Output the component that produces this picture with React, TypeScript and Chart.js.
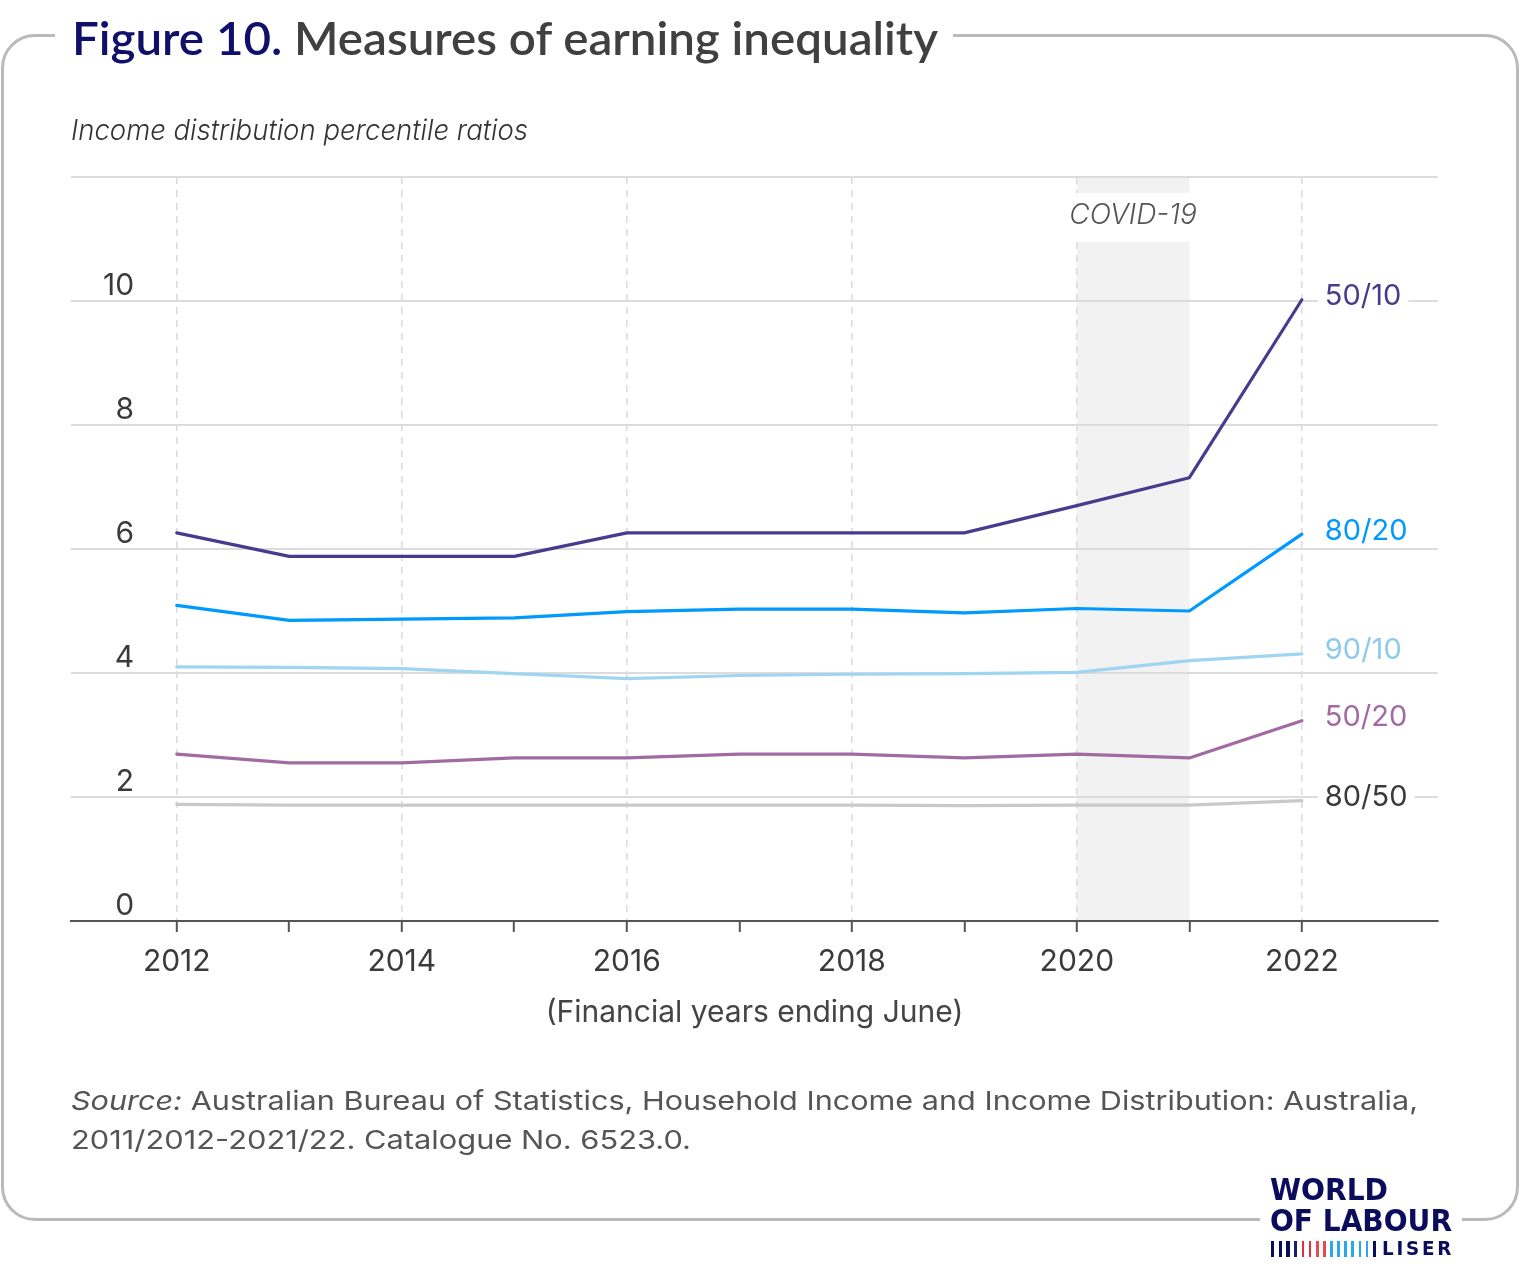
import React, { useEffect, useLayoutEffect, useRef } from 'react';
import { Chart, registerables } from 'chart.js';

Chart.register(...registerables);

// ---------- data ----------
const years = [2012, 2013, 2014, 2015, 2016, 2017, 2018, 2019, 2020, 2021, 2022];
const yTickValues = [0, 2, 4, 6, 8, 10, 12];
const seriesLabels = ['80/50', '50/20', '90/10', '80/20', '50/10'];
const ratio8050 = [1.88, 1.87, 1.87, 1.87, 1.87, 1.87, 1.87, 1.86, 1.87, 1.87, 1.94];
const ratio5020 = [2.69, 2.55, 2.55, 2.63, 2.63, 2.69, 2.69, 2.63, 2.69, 2.63, 3.23];
const ratio9010 = [4.10, 4.09, 4.07, 3.99, 3.91, 3.96, 3.98, 3.99, 4.01, 4.20, 4.31];
const ratio8020 = [5.09, 4.85, 4.87, 4.89, 4.99, 5.03, 5.03, 4.97, 5.04, 5.00, 6.24];
const ratio5010 = [6.26, 5.88, 5.88, 5.88, 6.26, 6.26, 6.26, 6.26, 6.70, 7.15, 10.02];
const seriesValues = [ratio8050, ratio5020, ratio9010, ratio8020, ratio5010];
const lineColors = ['#c9c9c9', '#a26aa2', '#9fd5f2', '#0099fe', '#463b8c'];
const labelColors = ['#3a3a3a', '#a26aa2', '#8ecbea', '#0099fe', '#463b8c'];
const covidStart = 2020;
const covidEnd = 2021;
const covidText = 'COVID-19';
const xMin = 2011.06;
const xMax = 2023.21;
const yMin = 0;
const yMax = 12;

const FONT = 'Inter, "Noto Sans", sans-serif';

function FitText({ width, style, children }: { width: number; style: React.CSSProperties; children: React.ReactNode }) {
  const ref = useRef<HTMLSpanElement>(null);
  useLayoutEffect(() => {
    const el = ref.current;
    if (!el) return;
    el.style.transform = 'none';
    const w = el.getBoundingClientRect().width;
    if (w > 0) el.style.transform = `scaleX(${width / w})`;
  });
  return (
    <span
      ref={ref}
      style={{ position: 'absolute', whiteSpace: 'nowrap', transformOrigin: '0 0', display: 'inline-block', ...style }}
    >
      {children}
    </span>
  );
}

const overlayPlugin = {
  id: 'overlayPlugin',
  beforeDraw(chart: any) {
    const { ctx, chartArea, scales } = chart;
    const x = scales.x;
    const x1 = x.getPixelForValue(covidStart);
    const x2 = x.getPixelForValue(covidEnd);
    ctx.save();
    ctx.fillStyle = '#f2f2f2';
    ctx.fillRect(x1, chartArea.top, x2 - x1, chartArea.bottom - chartArea.top);
    ctx.restore();
  },
  afterDatasetsDraw(chart: any) {
    const { ctx, chartArea, scales } = chart;
    const x = scales.x;
    const y = scales.y;
    ctx.save();
    // COVID label with white gap
    const x1 = x.getPixelForValue(covidStart);
    const x2 = x.getPixelForValue(covidEnd);
    const cx = (x1 + x2) / 2;
    ctx.fillStyle = '#ffffff';
    ctx.fillRect(x1 - 3, chartArea.top + 16, x2 - x1 + 6, 49);
    ctx.font = `italic 300 28px ${FONT}`;
    ctx.fillStyle = '#555555';
    ctx.textAlign = 'center';
    ctx.textBaseline = 'middle';
    ctx.fillText(covidText, cx, chartArea.top + 39);

    // series end labels
    ctx.font = `400 29px ${FONT}`;
    ctx.textAlign = 'left';
    chart.data.datasets.forEach((ds: any, i: number) => {
      const last = ds.data[ds.data.length - 1];
      const px = x.getPixelForValue(last.x);
      const py = y.getPixelForValue(last.y) - 3;
      const w = ctx.measureText(ds.label).width;
      ctx.fillStyle = '#ffffff';
      ctx.fillRect(px + 16, py - 15, w + 14, 30);
      ctx.fillStyle = labelColors[i];
      ctx.fillText(ds.label, px + 23, py);
    });
    ctx.restore();
  },
};

function ChartCanvas() {
  const canvasRef = useRef<HTMLCanvasElement>(null);
  useEffect(() => {
    const canvas = canvasRef.current;
    if (!canvas) return;
    const chart = new Chart(canvas, {
      type: 'line',
      data: {
        datasets: seriesLabels.map((label, i) => ({
          label,
          data: years.map((yr, j) => ({ x: yr, y: seriesValues[i][j] })),
          borderColor: lineColors[i],
          backgroundColor: lineColors[i],
          borderWidth: 3.2,
          pointRadius: 0,
          tension: 0,
          borderJoinStyle: 'round',
          borderCapStyle: 'round',
          fill: false,
        })),
      },
      options: {
        responsive: false,
        maintainAspectRatio: false,
        animation: false,
        events: [],
        layout: { padding: { left: 71, right: 82, top: 177, bottom: 236 } },
        plugins: {
          legend: { display: false },
          tooltip: { enabled: false },
          title: { display: false },
        },
        scales: {
          x: {
            type: 'linear',
            min: xMin,
            max: xMax,
            afterBuildTicks: (s: any) => {
              s.ticks = years.map((v) => ({ value: v }));
            },
            afterFit: (s: any) => {
              s.height = 110;
            },
            ticks: {
              autoSkip: false,
              maxRotation: 0,
              padding: 12,
              color: '#3a3a3a',
              font: { family: FONT, size: 30 },
              callback: (v: any) => (Number(v) % 2 === 0 ? String(v) : ''),
            },
            grid: {
              color: (ctx: any) => (ctx.tick && ctx.tick.value % 2 === 0 ? '#dddddd' : 'rgba(0,0,0,0)'),
              lineWidth: 1.6,
              drawTicks: true,
              tickLength: 11,
              tickColor: '#555555',
              tickWidth: 2,
              tickBorderDash: [],
            },
            border: { display: true, color: '#555555', width: 2, dash: [7, 6] },
            title: {
              display: true,
              text: '(Financial years ending June)',
              color: '#444444',
              font: { family: FONT, size: 30 },
              padding: { top: 0, bottom: 0 },
            },
          },
          y: {
            type: 'linear',
            min: yMin,
            max: yMax,
            afterBuildTicks: (s: any) => {
              s.ticks = yTickValues.map((v) => ({ value: v }));
            },
            afterFit: (s: any) => {
              s.width = 0;
            },
            ticks: {
              mirror: true,
              crossAlign: 'far',
              padding: 32,
              labelOffset: -15,
              color: '#3a3a3a',
              font: { family: FONT, size: 30 },
              callback: (v: any) => (Number(v) === yMax ? '' : String(v)),
            },
            grid: { color: '#dcdcdc', lineWidth: 2, drawTicks: false },
            border: { display: false },
          },
        },
      },
      plugins: [overlayPlugin],
    } as any);
    return () => chart.destroy();
  }, []);
  return <canvas ref={canvasRef} width={1520} height={1267} style={{ position: 'absolute', left: 0, top: 0 }} />;
}

const barColors = [
  '#0c0c5c', '#0c0c5c', '#0c0c5c', '#1d1d6e',
  '#e0303c', '#e0303c', '#e84a55', '#e84a55',
  '#2aa7f0', '#2aa7f0', '#2aa7f0', '#2aa7f0', '#2aa7f0', '#2aa7f0',
  '#0c0c5c',
];

export default function App() {
  return (
    <div
      style={{
        position: 'absolute',
        left: 0,
        top: 0,
        width: 1520,
        height: 1267,
        background: '#ffffff',
        overflow: 'hidden',
        fontFamily: FONT,
      }}
    >
      {/* frame */}
      <div
        style={{
          position: 'absolute',
          left: 1,
          top: 34,
          width: 1518,
          height: 1187,
          border: '3px solid #bcb9bc',
          borderRadius: 34,
          boxSizing: 'border-box',
        }}
      />
      {/* title gap */}
      <div style={{ position: 'absolute', left: 55, top: 24, width: 898, height: 22, background: '#fff' }} />
      {/* logo gap */}
      <div style={{ position: 'absolute', left: 1260, top: 1210, width: 202, height: 20, background: '#fff' }} />

      <ChartCanvas />

      {/* title */}
      <FitText
        width={866}
        style={{ left: 72, top: 14, fontFamily: 'Lato, sans-serif', fontWeight: 600, fontSize: 47, lineHeight: '46px' }}
      >
        <span style={{ color: '#10106a' }}>Figure 10.</span>
        <span style={{ color: '#404040' }}> Measures of earning inequality</span>
      </FitText>

      {/* subtitle */}
      <FitText
        width={457}
        style={{ left: 71, top: 115, fontStyle: 'italic', fontWeight: 300, fontSize: 28, lineHeight: '30px', color: '#333' }}
      >
        Income distribution percentile ratios
      </FitText>

      {/* source */}
      <FitText width={1347} style={{ left: 71, top: 1081, fontSize: 26, lineHeight: '39px', color: '#555' }}>
        <i>Source:</i> Australian Bureau of Statistics, Household Income and Income Distribution: Australia,
      </FitText>
      <FitText width={620} style={{ left: 71, top: 1120, fontSize: 26, lineHeight: '39px', color: '#555' }}>
        2011/2012-2021/22. Catalogue No. 6523.0.
      </FitText>

      {/* logo */}
      <FitText
        width={118}
        style={{ left: 1270, top: 1175, fontFamily: '"DejaVu Sans", sans-serif', fontWeight: 700, fontSize: 30, lineHeight: '30px', color: '#0c0c5c' }}
      >
        WORLD
      </FitText>
      <FitText
        width={182}
        style={{ left: 1270, top: 1206, fontFamily: '"DejaVu Sans", sans-serif', fontWeight: 700, fontSize: 30, lineHeight: '30px', color: '#0c0c5c' }}
      >
        OF LABOUR
      </FitText>
      <div style={{ position: 'absolute', left: 1271, top: 1241, height: 16, display: 'flex', gap: 4.5 }}>
        {barColors.map((c, i) => (
          <div key={i} style={{ width: i < 4 || i === 14 ? 3.2 : 2.6, height: 16, background: c }} />
        ))}
      </div>
      <FitText
        width={72}
        style={{ left: 1382, top: 1237, fontFamily: '"DejaVu Sans", sans-serif', fontWeight: 700, fontSize: 20, lineHeight: '22px', letterSpacing: 3, color: '#0c0c5c' }}
      >
        LISER
      </FitText>
    </div>
  );
}
